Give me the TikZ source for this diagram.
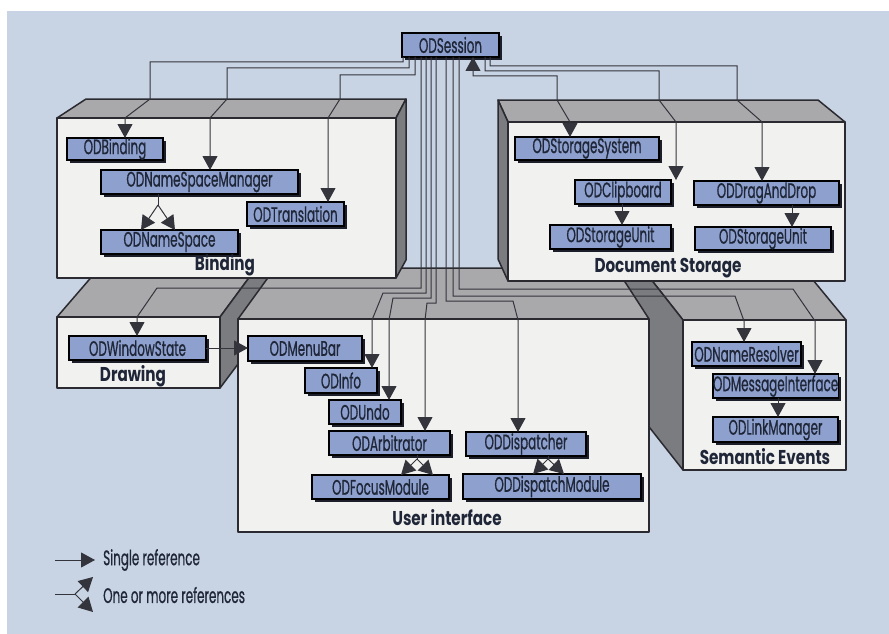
\documentclass[tikz,border=0pt]{standalone}
\usepackage{fontspec}
\setmainfont{Poppins}[FakeStretch=0.57,FakeBold=0.7]
\newfontfamily\titlefont{Poppins}[FakeStretch=0.76]
\usetikzlibrary{arrows.meta,shadows}
\definecolor{bgc}{HTML}{C8D4E3}
\definecolor{topc}{HTML}{A9A9AB}
\definecolor{sidec}{HTML}{7B7C7F}
\definecolor{frontc}{HTML}{F1F1EF}
\definecolor{edgec}{HTML}{2A2A30}
\definecolor{clsc}{HTML}{8EA1CE}
\definecolor{txtc}{HTML}{1F2638}
\definecolor{linec}{HTML}{34343C}
\definecolor{shadowc}{HTML}{1C1E2A}
\newcommand\clsbox[6]{\node[cls,minimum width=#4pt,minimum height=#5pt] (#1) at (#2,#3) {#6};}
\begin{document}
\begin{tikzpicture}[x=1pt,y=-1pt,
  face/.style={draw=edgec,line width=1.5pt,line join=round},
  cls/.style={draw=black,line width=1.4pt,fill=clsc,text=txtc,inner sep=0pt,outer sep=0pt,anchor=north west,
    font=\fontsize{21}{21}\selectfont,
    drop shadow={shadow xshift=3pt,shadow yshift=-3pt,fill=shadowc,opacity=1}},
  conn/.style={draw=linec,line width=1pt},
  tip/.style={-{Triangle[length=14pt,width=15pt]}},
  tipb/.style={{Triangle[length=14pt,width=15pt]}-{Triangle[length=14pt,width=15pt]}},
  title/.style={font=\titlefont\bfseries\fontsize{20}{20}\selectfont,text=txtc,inner sep=0pt},
  leg/.style={font=\fontsize{21}{21}\selectfont,text=txtc,inner sep=0pt,anchor=west}]
\useasboundingbox (0,0) rectangle (889,634);
\fill[white] (0,0) rectangle (889,634);
\fill[bgc] (7,11) rectangle (889,634);

% Drawing box
\filldraw[face,fill=topc] (57,317) -- (113,252) -- (268,252) -- (220,317) -- cycle;
\filldraw[face,fill=sidec] (220,317) -- (268,252) -- (268,324) -- (220,388) -- cycle;
\filldraw[face,fill=frontc] (57,317) rectangle (220,388);
% Semantic events box
\filldraw[face,fill=topc] (683,320) -- (620,240) -- (780,240) -- (846,320) -- cycle;
\filldraw[face,fill=sidec] (683,320) -- (620,240) -- (620,390) -- (683,470) -- cycle;
\filldraw[face,fill=frontc] (683,320) rectangle (846,470);
% User interface box
\filldraw[face,fill=topc] (238,319) -- (275,268) -- (616,268) -- (649,319) -- cycle;
\filldraw[face,fill=frontc] (238,319) rectangle (649,532);
% Binding box
\filldraw[face,fill=topc] (57,118) -- (86,99) -- (406,99) -- (396,118) -- cycle;
\filldraw[face,fill=sidec] (396,118) -- (406,99) -- (406,260) -- (396,278) -- cycle;
\filldraw[face,fill=frontc] (57,118) rectangle (396,278);
% Document storage box
\filldraw[face,fill=topc] (498,100) -- (818,100) -- (845,122) -- (508,122) -- cycle;
\filldraw[face,fill=sidec] (498,100) -- (508,122) -- (508,281) -- (498,259) -- cycle;
\filldraw[face,fill=frontc] (508,122) rectangle (845,281);

% class boxes
\clsbox{sess}{402}{33}{97}{24}{ODSession}
\clsbox{bind}{67}{138}{96}{22}{ODBinding}
\clsbox{nsm}{101}{170}{197}{24}{ODNameSpaceManager}
\clsbox{trans}{247}{202}{97}{24}{ODTranslation}
\clsbox{ns}{101}{230}{137}{24}{ODNameSpace}
\clsbox{stsys}{515}{137}{144}{23}{ODStorageSystem}
\clsbox{clip}{575}{180}{96}{24}{ODClipboard}
\clsbox{dnd}{694}{181}{145}{24}{ODDragAndDrop}
\clsbox{sua}{550}{225}{121}{24}{ODStorageUnit}
\clsbox{sub}{695}{227}{136}{23}{ODStorageUnit}
\clsbox{win}{69}{336}{137}{24}{ODWindowState}
\clsbox{menu}{248}{336}{114}{25}{ODMenuBar}
\clsbox{info}{305}{368}{72}{25}{ODInfo}
\clsbox{undo}{329}{400}{72}{24}{ODUndo}
\clsbox{arb}{329}{431}{121}{24}{ODArbitrator}
\clsbox{disp}{466}{432}{120}{24}{ODDispatcher}
\clsbox{focus}{312}{475}{137}{24}{ODFocusModule}
\clsbox{dispm}{463}{474}{178}{25}{ODDispatchModule}
\clsbox{nres}{692}{342}{109}{24}{ODNameResolver}
\clsbox{msgi}{713}{374}{125}{24}{ODMessageInterface}
\clsbox{link}{713}{417}{125}{25}{ODLinkManager}

% box titles
\node[title] (tbind) at (225,265) {Binding};
\node[title] (tdoc) at (668,268) {Document Storage};
\node[title] (tdraw) at (133,376) {Drawing};
\node[title] (tui) at (447,518) {User interface};
\node[title] (tsem) at (765,457) {Semantic Events};

% connectors from ODSession: Binding
\draw[conn,tip] (sess.south -| 403,0) |- (150,62) -- (150,99) -- (125,118) -- (bind.north -| 125,0);
\draw[conn,tip] (sess.south -| 409,0) |- (227,68) -- (227,99) -- (210,118) -- (nsm.north -| 210,0);
\draw[conn,tip] (sess.south -| 415,0) |- (340,75) -- (340,99) -- (328,118) -- (trans.north -| 328,0);
% Document storage
\draw[conn,tip] (sess.south -| 490,0) |- (737,66) -- (737,100) -- (762,122) -- (dnd.north -| 762,0);
\draw[conn,tip] (sess.south -| 485,0) |- (659,71) -- (659,100) -- (676,122) -- (clip.north -| 676,0);
\draw[conn,tipb] (sess.south -| 473,0) |- (557,76) -- (557,100) -- (570,122) -- (stsys.north -| 570,0);
% bundle to the lower boxes
\draw[conn,tip] (sess.south -| 421,0) |- (157,288) -- (137,317) -- (win.north -| 137,0);
\draw[conn,tip] (sess.south -| 426,0) |- (383,293) -- (372,320) -- (info.north -| 372,0);
\draw[conn,tip] (sess.south -| 431,0) |- (393,298) -- (389,320) -- (undo.north -| 389,0);
\draw[conn,tip] (sess.south -| 436,0) |- (427,303) -- (425,320) -- (arb.north -| 425,0);
\draw[conn,tip] (sess.south -| 446,0) |- (513,301) -- (518,320) -- (disp.north -| 518,0);
\draw[conn,tip] (sess.south -| 453,0) |- (735,296) -- (744,321) -- (nres.north -| 744,0);
\draw[conn,tip] (sess.south -| 459,0) |- (793,289) -- (815,321) -- (msgi.north -| 815,0);

% single references inside boxes
\draw[conn,tip] (win.east |- 0,348) -- (menu.west |- 0,348);
\draw[conn,tip] (clip.south -| 622,0) -- (sua.north -| 622,0);
\draw[conn,tip] (dnd.south -| 792,0) -- (sub.north -| 792,0);
\draw[conn,tip] (msgi.south -| 778,0) -- (link.north -| 778,0);

% one-or-more references
\coordinate (f1) at (158,205);
\draw[conn] (nsm.south -| f1) -- (f1);
\draw[conn,tip] (f1) -- (ns.north -| 141,0);
\draw[conn,tip] (f1) -- (ns.north -| 175,0);
\coordinate (f2) at (417,459);
\draw[conn] (arb.south -| f2) -- (f2);
\draw[conn,tip] (f2) -- (focus.north -| 401,0);
\draw[conn,tip] (f2) -- (focus.north -| 433,0);
\coordinate (f3) at (548,459);
\draw[conn] (disp.south -| f3) -- (f3);
\draw[conn,tip] (f3) -- (dispm.north -| 533,0);
\draw[conn,tip] (f3) -- (dispm.north -| 564,0);

% legend
\node[leg] (l1) at (103,560) {Single reference};
\node[leg] (l2) at (103,595) {One or more references};
\coordinate (l1s) at (55,560);
\coordinate (l1t) at (95,560);
\draw[conn,tip] (l1s) -- (l1t);
\coordinate (l2s) at (55,594);
\coordinate (l2m) at (75,594);
\coordinate (l2a) at (93,577);
\coordinate (l2b) at (93,612);
\draw[conn] (l2s) -- (l2m);
\draw[conn,tip] (l2m) -- (l2a);
\draw[conn,tip] (l2m) -- (l2b);
\end{tikzpicture}
\end{document}
